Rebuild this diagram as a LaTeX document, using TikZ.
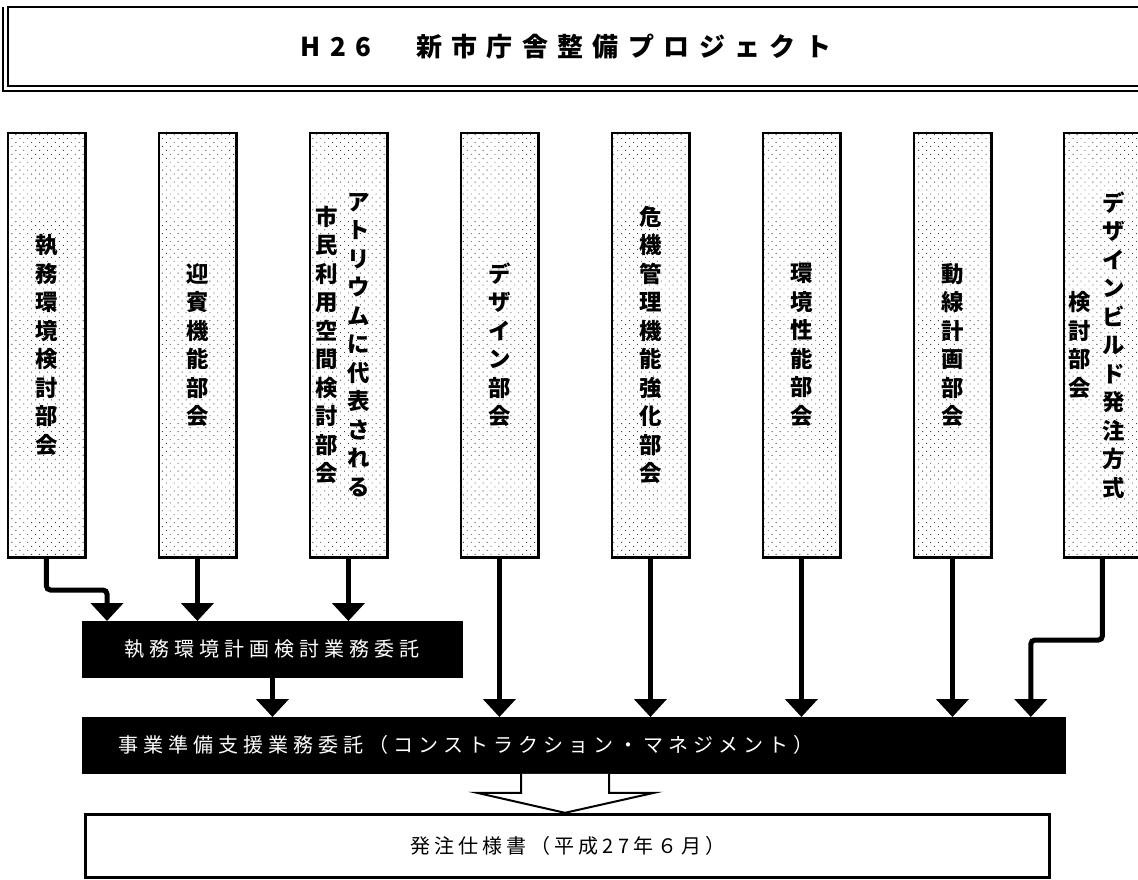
\documentclass[tikz,border=0pt]{standalone}
\usepackage{fontspec}
\setmainfont{Noto Sans CJK JP}
\newfontfamily\jpsp[LetterSpace=25]{Noto Sans CJK JP}
\newfontfamily\jptitle[LetterSpace=36]{Noto Sans CJK JP}
\newfontfamily\jpbot[LetterSpace=20]{Noto Sans CJK JP}
\usetikzlibrary{arrows.meta,patterns.meta,calc}
\begin{document}
\begin{tikzpicture}[x=0.5pt,y=-0.5pt,
  colbox/.style={draw=black, line width=0.9pt, minimum width=38.5pt, minimum height=212pt,
    inner sep=0pt, anchor=north west,
    pattern={Dots[distance=2.8pt, radius=0.32pt, angle=45]}, pattern color=black!75},
  vlab/.style={font=\fontsize{11.2pt}{14.25pt}\selectfont\bfseries, align=center,
    inner sep=0pt, text width=11pt},
  blackbox/.style={fill=black, draw=black, inner sep=0pt, anchor=north west,
    text=white, font=\jpsp\fontsize{10pt}{12pt}\selectfont},
  arr/.style={line width=2.5pt, -{Triangle[width=16pt,length=9pt]}, rounded corners=2pt},
  shade/.style={line width=1.1pt}
]
\useasboundingbox (0,0) rectangle (1138,879);

% title frame
\draw[line width=1pt] (8,7) rectangle (1150,86);
\draw[line width=1.4pt] (3,7) -- (3,91) -- (1150,91);
\node[font=\jptitle\fontsize{13pt}{15pt}\selectfont\bfseries] (title) at (566,47)
  {H26　新市庁舎整備プロジェクト};

% columns
\node[colbox] (c1) at (7,132) {};
\node[colbox] (c2) at (158,132) {};
\node[colbox] (c3) at (309,132) {};
\node[colbox] (c4) at (460,132) {};
\node[colbox] (c5) at (611,132) {};
\node[colbox] (c6) at (762,132) {};
\node[colbox] (c7) at (913,132) {};
\node[colbox] (c8) at (1063,132) {};
\foreach \c in {c1,c2,c3,c4,c5,c6,c7}
  \draw[shade] (\c.north east) -- (\c.south east) -- (\c.south west);
\draw[shade] (c8.south east) -- (c8.south west);

\node[vlab] (l1) at (c1.center) {執\\務\\環\\境\\検\\討\\部\\会};
\node[vlab] (l2) at (c2.center) {迎\\賓\\機\\能\\部\\会};
\node[vlab] (l3a) at ($(c3.center)+(10.5,0)$) {ア\\ト\\リ\\ウ\\ム\\に\\代\\表\\さ\\れ\\る};
\node[vlab] (l3b) at ($(c3.center)+(-21.5,0)$) {市\\民\\利\\用\\空\\間\\検\\討\\部\\会};
\node[vlab] (l4) at (c4.center) {デ\\ザ\\イ\\ン\\部\\会};
\node[vlab] (l5) at (c5.center) {危\\機\\管\\理\\機\\能\\強\\化\\部\\会};
\node[vlab] (l6) at (c6.center) {環\\境\\性\\能\\部\\会};
\node[vlab] (l7) at (c7.center) {動\\線\\計\\画\\部\\会};
\node[vlab] (l8a) at ($(c8.center)+(11.5,0)$) {デ\\ザ\\イ\\ン\\ビ\\ル\\ド\\発\\注\\方\\式};
\node[vlab] (l8b) at ($(c8.center)+(-22.5,0)$) {検\\討\\部\\会};

% black boxes
\node[blackbox, minimum width=190pt, minimum height=28pt] (b1) at (82,621)
  {執務環境計画検討業務委託};
\node[blackbox, minimum width=491.5pt, minimum height=28pt] (b2) at (82,717) {};
\node[text=white, font=\jpsp\fontsize{10pt}{12pt}\selectfont, anchor=west, inner sep=0pt]
  (b2t) at (118,745) {事業準備支援業務委託（コンストラクション・マネジメント）};

% bottom box
\node[draw=black, line width=1.4pt, minimum width=482pt, minimum height=31.5pt,
  inner sep=0pt, anchor=north west] (b3) at (84,813) {};
\node[font=\jpbot\fontsize{10pt}{12pt}\selectfont, inner sep=0pt] (b3t) at (568,846)
  {発注仕様書（平成27年６月）};

% arrows
\draw[arr] (c1.south) |- ($(b1.north west)+(25,-31)$) -- ($(b1.north west)+(25,0)$);
\draw[arr] (c2.south) -- (c2.south |- b1.north);
\draw[arr] (c3.south) -- (c3.south |- b1.north);
\draw[arr] (b1.south) -- (b1.south |- b2.north);
\draw[arr] (c4.south) -- (c4.south |- b2.north);
\draw[arr] (c5.south) -- (c5.south |- b2.north);
\draw[arr] (c6.south) -- (c6.south |- b2.north);
\draw[arr] (c7.south) -- (c7.south |- b2.north);
\draw[arr] (c8.south) |- ($(b2.north east)+(-35,-77)$) -- ($(b2.north east)+(-35,0)$);

% hollow arrow
\coordinate (hs) at ($(b2.south west)+(439,0)$);
\draw[line width=1pt, fill=white, line join=miter]
  (hs) -- ++(0,19) -- ++(-44,0) -- ($(hs)+(44,39)$) -- ($(hs)+(133,19)$)
  -- ($(hs)+(88,19)$) -- ($(hs)+(88,0)$);
\end{tikzpicture}
\end{document}
